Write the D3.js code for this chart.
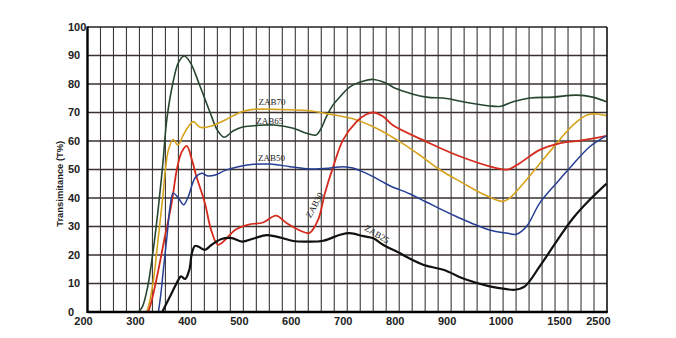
<!DOCTYPE html>
<html>
<head>
<meta charset="utf-8">
<script src="https://cdn.jsdelivr.net/npm/d3@7"></script>
<style>
  html, body { margin: 0; padding: 0; background: #ffffff; }
  svg { display: block; }
</style>
</head>
<body>
<div id="chart"></div>
<script>
// ---- data ----
const xTickValues = [200, 300, 400, 500, 600, 700, 800, 900, 1000, 1500, 2500];
const yTickValues = [0, 10, 20, 30, 40, 50, 60, 70, 80, 90, 100];
const yTitle = "Transimitance (T%)";

const zab65 = [[298,0],[306,2],[316,9],[326,21],[336,36],[345,52],[353,68],[364,80],[375,87.5],[386,89.8],[398,87.5],[415,80],[436,70],[450,63.8],[463,61.3],[480,63.5],[497,64.8],[530,65.5],[560,65.6],[596,64.5],[620,62.8],[640,62.1],[650,64.5],[660,68.6],[672,72.5],[686,75.5],[705,79],[730,81],[750,81.6],[772,80.5],[795,78.3],[825,76.5],[853,75.4],[891,74.9],[930,73.5],[974,72.3],[996,72.2],[1086,73.8],[1228,75.1],[1428,75.4],[1883,76.1],[2300,75.4],[2650,73.8]];
const zab70 = [[314,0],[320,4],[327,11.3],[336.5,26.5],[345,40.5],[350,50],[356,57],[365,60.5],[374,58.6],[384,62],[394,65],[404,66.8],[417,64.8],[439,65.3],[465,67.4],[497,70.3],[519,71.1],[560,71.1],[622,70.7],[673,69.2],[718,67.4],[756,64.5],[801,59.8],[840,55],[878,49.9],[920,45.5],[960,41.5],[997,38.8],[1040,39.5],[1086,41.1],[1200,46.4],[1313,52],[1484,60.4],[1793,65.6],[2167,69.2],[2393,69.5],[2650,68.9]];
const zab30 = [[317,0],[324,4.3],[336.5,14.8],[349,26.5],[362,38.2],[372,50],[381,56],[391,58.3],[401,53.4],[409,48],[426,38.2],[438,28.8],[451,23.6],[465,25.3],[484,28.8],[510,30.7],[538,31.4],[563,33.8],[583,31.2],[609,28.6],[627,27.7],[644,32.4],[657,41.7],[673,51],[692,60.4],[718,66.8],[737,69.4],[750,70],[769,68.6],[788,65.5],[852,59.8],[910,55.1],[987,50.5],[1042,50],[1142,52.2],[1313,56.9],[1484,59.2],[1967,60.1],[2650,61.8]];
const zab50 = [[336.5,0],[341,6],[346,14.8],[353,26.5],[359,37],[365,41.7],[375,40],[385,37.6],[394,40.5],[407,47],[420,48.7],[430,47.8],[446,48.1],[465,49.7],[490,51],[519,51.8],[551,51.9],[590,51],[628,50.2],[667,50.5],[692,51],[711,50.5],[743,48.1],[782,44.3],[820,41.5],[852,38.6],[910,33.5],[974,28.8],[1029,27.7],[1114,27.3],[1200,30],[1313,38.2],[1456,45.2],[1710,50.5],[2223,58],[2650,61.8]];
const zab25 = [[344,0],[352,3],[362,6.6],[375,11.3],[380,12.5],[388,11.6],[396,14.8],[401,20.7],[407,23.2],[415,22.8],[426,21.8],[439,23.6],[458,25.6],[478,25.9],[497,24.7],[520,25.8],[545,27],[570,26.2],[596,24.9],[622,24.7],[654,25],[686,27.1],[705,27.7],[731,26.6],[750,25.9],[769,23.6],[795,21.2],[846,16.6],[885,14.8],[930,11.3],[974,9],[1030,8],[1100,7.8],[1186,9],[1313,16],[1456,24.7],[1793,32.9],[2223,39.4],[2650,45]];

const seriesNames = ["ZAB65", "ZAB70", "ZAB30", "ZAB50", "ZAB25"];
const seriesData = [zab65, zab70, zab30, zab50, zab25];
const seriesColors = ["#27462f", "#d7a21c", "#d62b1c", "#253d94", "#111111"];
const seriesWidths = [1.6, 1.6, 1.8, 1.5, 2.2];

// label anchors in data units
const labelNames = ["ZAB70", "ZAB65", "ZAB50", "ZAB30", "ZAB25"];
const labelX = [555, 551, 554, 637, 757];
const labelY = [73.6, 67, 54.1, 37.5, 27.3];
const labelRot = [0, 0, 0, -62, 31];

// ---- layout ----
const W = 676, H = 338;
const L = 87.5, R = 607, T = 27, B = 312;
const gridCount = 40;
const step = (R - L) / gridCount;

const svg = d3.select("#chart").append("svg").attr("width", W).attr("height", H);

const x = d3.scaleLinear()
  .domain([200, 1000, 1500, 2500, 2667])
  .range([L, L + 32 * step, L + 36.5 * step, L + 39.5 * step, R]);
const y = d3.scaleLinear().domain([0, 100]).range([B, T]);
const gridX = d3.scaleLinear().domain([0, gridCount]).range([L, R]);

svg.append("defs").append("clipPath").attr("id", "plot")
  .append("rect").attr("x", L).attr("y", T).attr("width", R - L).attr("height", B - T);

// grid
const g = svg.append("g");
g.selectAll("line.vg").data(d3.range(1, gridCount)).enter().append("line")
  .attr("x1", d => gridX(d)).attr("x2", d => gridX(d))
  .attr("y1", T).attr("y2", B)
  .attr("stroke", "#3a3a3a").attr("stroke-width", 1.1);
g.selectAll("line.hg").data(yTickValues.slice(1, -1)).enter().append("line")
  .attr("x1", L).attr("x2", R)
  .attr("y1", d => y(d)).attr("y2", d => y(d))
  .attr("stroke", "#3a3030").attr("stroke-width", 1.4);

// curves
const line = d3.line().x(d => x(d[0])).y(d => y(d[1])).curve(d3.curveCatmullRom.alpha(0.5));
svg.append("g").attr("clip-path", "url(#plot)")
  .selectAll("path").data(seriesData).enter().append("path")
  .attr("d", d => line(d))
  .attr("fill", "none")
  .attr("stroke", (d, i) => seriesColors[i])
  .attr("stroke-width", (d, i) => seriesWidths[i])
  .attr("stroke-linejoin", "round");

// frame
g.append("line").attr("x1", L).attr("x2", R).attr("y1", T).attr("y2", T).attr("stroke", "#222").attr("stroke-width", 1.5);
svg.append("line").attr("x1", R).attr("x2", R).attr("y1", T).attr("y2", B).attr("stroke", "#111").attr("stroke-width", 1.6);
svg.append("line").attr("x1", L).attr("x2", L).attr("y1", T - 0.5).attr("y2", B + 1).attr("stroke", "#000").attr("stroke-width", 2.4);
svg.append("line").attr("x1", L).attr("x2", R + 0.8).attr("y1", B).attr("y2", B).attr("stroke", "#000").attr("stroke-width", 2.4);

// tick labels
const tickFont = "'Liberation Sans Narrow', 'Arial Narrow', 'Liberation Sans', Arial, sans-serif";
svg.append("g").selectAll("text").data(yTickValues).enter().append("text")
  .attr("x", 68).attr("y", d => y(d))
  .attr("dy", "0.35em")
  .attr("font-family", tickFont).attr("font-size", 11).attr("font-weight", "bold")
  .attr("fill", "#222")
  .text(d => d);
svg.append("g").selectAll("text").data(xTickValues).enter().append("text")
  .attr("x", d => x(d)).attr("y", 325)
  .attr("dx", d => d >= 1000 ? -2 : -4)
  .attr("text-anchor", "middle")
  .attr("font-family", tickFont).attr("font-size", 11).attr("font-weight", "bold")
  .attr("fill", "#222")
  .text(d => d);

// y title
svg.append("text")
  .attr("transform", "translate(63," + ((y(60) + y(30)) / 2) + ") rotate(-90)")
  .attr("text-anchor", "middle")
  .attr("font-family", "'Liberation Sans', Arial, sans-serif")
  .attr("font-size", 9.4).attr("font-weight", "bold")
  .attr("fill", "#222")
  .text(yTitle);

// series labels
svg.append("g").selectAll("text").data(labelNames).enter().append("text")
  .attr("transform", (d, i) => "translate(" + x(labelX[i]) + "," + y(labelY[i]) + ") rotate(" + labelRot[i] + ")")
  .attr("text-anchor", "middle")
  .attr("dominant-baseline", "central")
  .attr("font-family", "'Liberation Serif', 'Times New Roman', serif")
  .attr("font-size", 9)
  .attr("fill", "#222")
  .text(d => d);
</script>
</body>
</html>
